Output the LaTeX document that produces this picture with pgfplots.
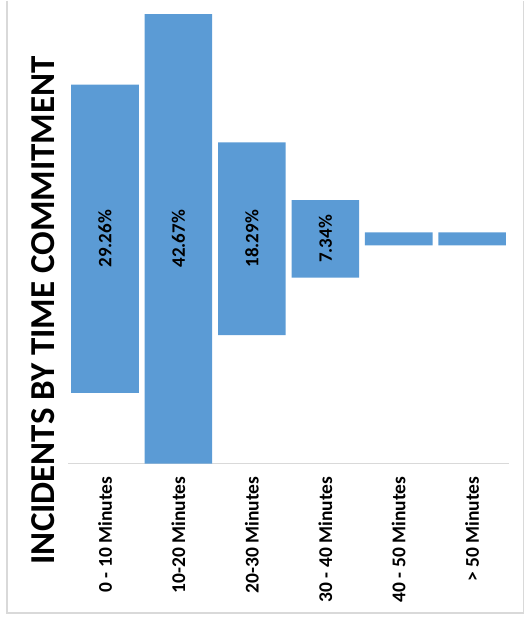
\documentclass[border=0pt]{standalone}
\usepackage{fontspec}
\setmainfont{Carlito}
\usepackage{pgfplots}
\pgfplotsset{compat=1.18}
\definecolor{barblue}{HTML}{5B9BD5}
\definecolor{framegray}{HTML}{D9D9D9}
\begin{document}
\begin{tikzpicture}[x=1bp,y=1bp]
\path (0,0) rectangle (528,628);
\draw[framegray, line width=1.2bp] (7,628) -- (7,15) -- (524,15) -- (524,628);
\begin{axis}[
  at={(93,156)}, anchor=south west,
  scale only axis, width=441bp, height=450bp,
  ybar stacked, bar width=0.92,
  xmin=-0.5, xmax=5.5, ymin=0, ymax=42.67,
  axis x line*=bottom, axis y line=none,
  x axis line style={-, draw=framegray, line width=1bp},
  xtick={0,1,2,3,4,5},
  xticklabels={0 - 10 Minutes, 10-20 Minutes, 20-30 Minutes, 30 - 40 Minutes, 40 - 50 Minutes, > 50 Minutes},
  major tick length=0pt,
  xticklabel shift=13bp,
  xticklabel style={rotate=90, anchor=east, inner sep=0pt, font=\bfseries\fontsize{19.5bp}{22bp}\selectfont},
  clip=false,
]
\addplot[fill=none, draw=none] coordinates {(0,6.705) (1,0) (2,12.19) (3,17.665) (4,20.725) (5,20.725)};
\addplot[fill=barblue, draw=none] coordinates {(0,29.26) (1,42.67) (2,18.29) (3,7.34) (4,1.22) (5,1.22)};
\end{axis}
\begin{axis}[
  at={(93,156)}, anchor=south west,
  scale only axis, width=441bp, height=450bp,
  xmin=-0.5, xmax=5.5, ymin=0, ymax=42.67,
  hide axis, clip=false,
]
\addplot[draw=none, nodes near coords, point meta=explicit symbolic,
  nodes near coords style={anchor=center, rotate=90, inner sep=0pt, font=\bfseries\fontsize{19bp}{22bp}\selectfont, text=black}]
  coordinates {(0,21.335)[29.26\%] (1,21.335)[42.67\%] (2,21.335)[18.29\%] (3,21.335)[7.34\%]};
\end{axis}
\node[rotate=90, anchor=center, inner sep=0pt, font=\bfseries\fontsize{35bp}{40bp}\selectfont] at (43,318) {INCIDENTS BY TIME COMMITMENT};
\end{tikzpicture}
\end{document}
